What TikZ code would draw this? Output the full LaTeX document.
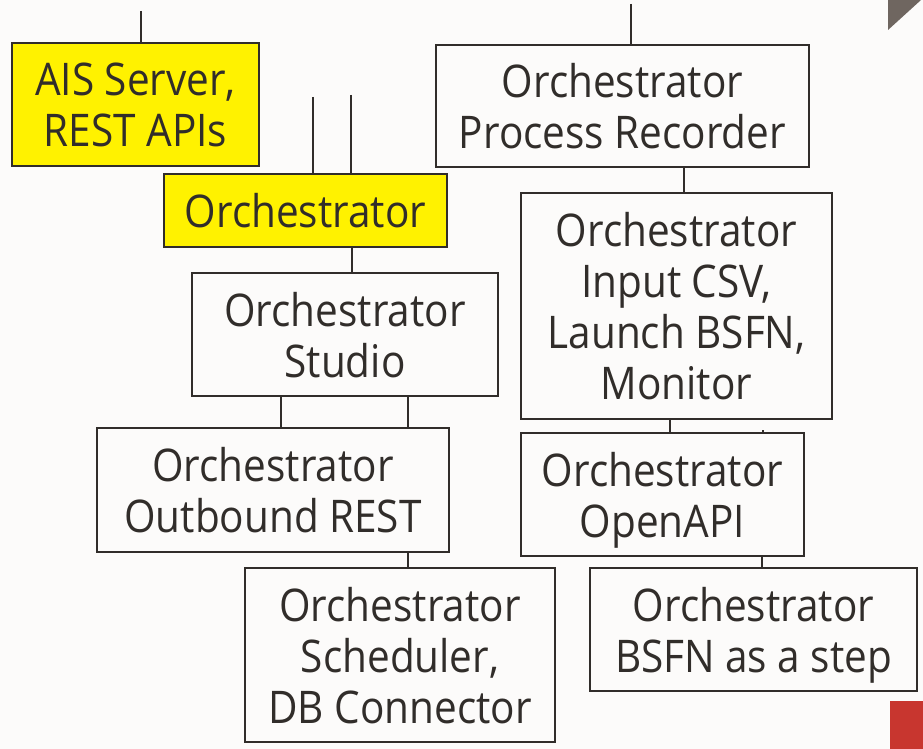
\documentclass[tikz,border=0pt]{standalone}
\usepackage{fontspec}
\setmainfont[FakeStretch=0.9]{Open Sans}
\definecolor{ink}{HTML}{312D2A}
\definecolor{paper}{HTML}{FCFBFA}
\definecolor{brandred}{HTML}{C8362F}
\definecolor{brandgray}{HTML}{6F6660}

\begin{document}
\begin{tikzpicture}[x=1pt,y=-1pt,
   box/.style={draw=ink,line width=1.6pt,fill=paper,text=ink,align=center,
      inner sep=0pt,text depth=0pt,font=\fontsize{45}{51}\selectfont},
   hot/.style={box,fill=yellow},
   wire/.style={ink,line width=1.2pt}]
   \fill[paper] (0,0) rectangle (923,749);
   \fill[brandgray] (888,0) -- (921,0) -- (888,30) -- cycle;
   \fill[brandred] (890,701) rectangle (923,749);

   \node[hot,minimum width=247pt,minimum height=123pt] (ais) at (135.5,104.5) {AIS Server,\\REST APIs};
   \node[hot,minimum width=283pt,minimum height=73pt] (orch) at (305.5,210.5) {Orchestrator};
   \node[box,minimum width=373pt,minimum height=122pt] (recorder) at (622.5,106) {Orchestrator\\Process Recorder};
   \node[box,minimum width=311pt,minimum height=226pt] (csv) at (676.5,306) {Orchestrator\\Input CSV,\\Launch BSFN,\\Monitor};
   \node[box,minimum width=306pt,minimum height=123pt] (studio) at (345,334.5) {Orchestrator\\Studio};
   \node[box,minimum width=352pt,minimum height=124pt] (outbound) at (273,490) {Orchestrator\\Outbound REST};
   \node[box,minimum width=310pt,minimum height=174pt] (scheduler) at (400,655) {Orchestrator\\Scheduler,\\DB Connector};
   \node[box,minimum width=283pt,minimum height=123pt] (openapi) at (662.5,494.5) {Orchestrator\\OpenAPI};
   \node[box,minimum width=327pt,minimum height=123pt] (bsfn) at (753.5,629.5) {Orchestrator\\BSFN as a step};

   % loose ends above the boxes
   \coordinate (aisin) at (141,11);
   \coordinate (orchinA) at (313,97);
   \coordinate (orchinB) at (351,95);
   \coordinate (recin) at (631,4);
   \coordinate (apiin) at (763,430);
   \draw[wire] (aisin) -- (aisin |- ais.north);
   \draw[wire] (orchinA) -- (orchinA |- orch.north);
   \draw[wire] (orchinB) -- (orchinB |- orch.north);
   \draw[wire] (recin) -- (recin |- recorder.north);
   \draw[wire] (apiin) -- (apiin |- openapi.north);

   \draw[wire] (orch.south -| 352,0) -- (studio.north -| 352,0);
   \draw[wire] (recorder.south -| 684,0) -- (csv.north -| 684,0);
   \foreach \x in {281,408}
      \draw[wire] (studio.south -| \x,0) -- (outbound.north -| \x,0);
   \draw[wire] (outbound.south -| 408,0) -- (scheduler.north -| 408,0);
   \draw[wire] (csv.south -| 670,0) -- (openapi.north -| 670,0);
   \draw[wire] (openapi.south -| 762,0) -- (bsfn.north -| 762,0);
\end{tikzpicture}
\end{document}
